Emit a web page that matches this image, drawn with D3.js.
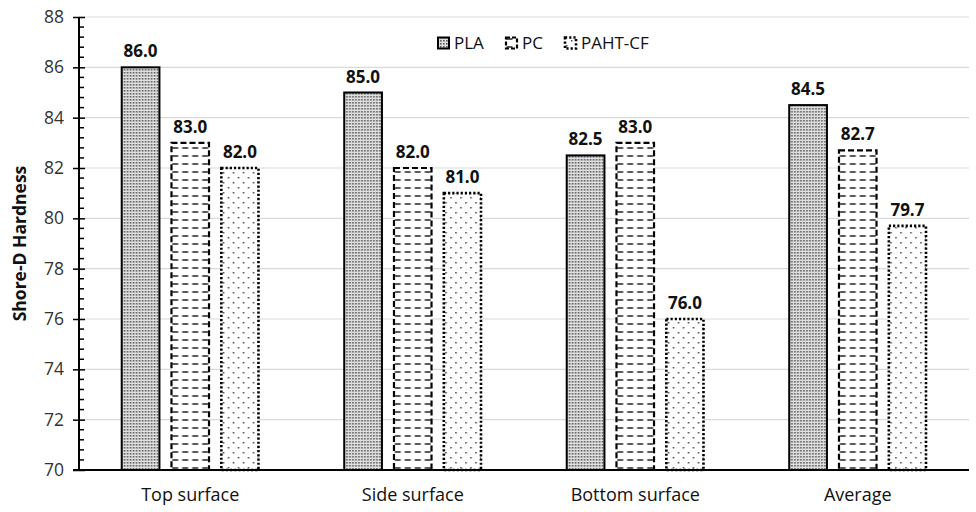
<!DOCTYPE html>
<html>
<head>
<meta charset="utf-8">
<script src="https://cdn.jsdelivr.net/npm/d3@7"></script>
<style>
  html, body { margin: 0; padding: 0; background: #fff; }
  svg { display: block; font-family: "Open Sans", "Lato", sans-serif; }
</style>
</head>
<body>
<svg id="chart" width="976" height="512"></svg>
<script>
// Shore-D hardness by surface and material
const categories = ["Top surface", "Side surface", "Bottom surface", "Average"];
const seriesNames = ["PLA", "PC", "PAHT-CF"];
const plaValues = [86.0, 85.0, 82.5, 84.5];
const pcValues = [83.0, 82.0, 83.0, 82.7];
const pahtValues = [82.0, 81.0, 76.0, 79.7];
const yTicks = [70, 72, 74, 76, 78, 80, 82, 84, 86, 88];
const yTitle = "Shore-D Hardness";

const seriesValues = { "PLA": plaValues, "PC": pcValues, "PAHT-CF": pahtValues };

const svg = d3.select("#chart");
const margin = { left: 79, right: 7, top: 17, bottom: 42 };
const W = 976, H = 512;

const x0 = d3.scaleBand().domain(categories).range([margin.left, W - margin.right]).padding(0);
const groupW = x0.bandwidth() * 0.625;
const x1 = d3.scaleBand().domain(seriesNames).range([0, groupW]).paddingInner(0.2).paddingOuter(0);
const y = d3.scaleLinear().domain([70, 88]).range([H - margin.bottom, margin.top]);

// fill patterns
const defs = svg.append("defs");
const pPLA = defs.append("pattern").attr("id", "pat-pla").attr("patternUnits", "userSpaceOnUse")
  .attr("width", 3).attr("height", 3);
pPLA.append("rect").attr("width", 3).attr("height", 3).attr("fill", "#e0e0e0");
pPLA.append("rect").attr("width", 1.6).attr("height", 1.6).attr("fill", "#5e5e5e");

const pPC = defs.append("pattern").attr("id", "pat-pc").attr("patternUnits", "userSpaceOnUse")
  .attr("width", 10).attr("height", 8);
pPC.append("rect").attr("width", 10).attr("height", 8).attr("fill", "#fff");
pPC.append("line").attr("x1", 1.5).attr("x2", 7.5).attr("y1", 4).attr("y2", 4)
  .attr("stroke", "#222").attr("stroke-width", 1.5);

const pPA = defs.append("pattern").attr("id", "pat-paht").attr("patternUnits", "userSpaceOnUse")
  .attr("width", 10).attr("height", 10);
pPA.append("rect").attr("width", 10).attr("height", 10).attr("fill", "#fff");
pPA.append("rect").attr("x", 2).attr("y", 2).attr("width", 1.5).attr("height", 1.5).attr("fill", "#444");
pPA.append("rect").attr("x", 7).attr("y", 7).attr("width", 1.5).attr("height", 1.5).attr("fill", "#444");

const styles = {
  "PLA": { fill: "url(#pat-pla)", dash: null, width: 2 },
  "PC": { fill: "url(#pat-pc)", dash: "6,3", width: 2.2 },
  "PAHT-CF": { fill: "url(#pat-paht)", dash: "2.2,2", width: 2.6 }
};

// gridlines
svg.append("g").selectAll("line").data(yTicks.filter(t => t > 70)).join("line")
  .attr("x1", margin.left).attr("x2", W - margin.right)
  .attr("y1", d => y(d)).attr("y2", d => y(d))
  .attr("stroke", "#d9d9d9").attr("stroke-width", 1.2);

// bars
const groups = svg.append("g").selectAll("g").data(categories).join("g")
  .attr("transform", d => `translate(${x0(d) + (x0.bandwidth() - groupW) / 2},0)`);

groups.each(function(cat, ci) {
  const g = d3.select(this);
  seriesNames.forEach(s => {
    const v = seriesValues[s][ci];
    const st = styles[s];
    g.append("rect")
      .attr("x", x1(s) + st.width / 2)
      .attr("y", y(v))
      .attr("width", x1.bandwidth() - st.width)
      .attr("height", y(70) - y(v))
      .attr("fill", st.fill)
      .attr("stroke", "#000")
      .attr("stroke-width", st.width)
      .attr("stroke-dasharray", st.dash);
    g.append("text")
      .attr("x", x1(s) + x1.bandwidth() / 2)
      .attr("y", y(v) - 10)
      .attr("text-anchor", "middle")
      .attr("font-size", 17).attr("font-weight", "bold").attr("fill", "#111")
      .text(v.toFixed(1));
  });
});

// y axis with minor ticks
const yAxisG = svg.append("g").attr("transform", `translate(${margin.left},0)`);
yAxisG.call(d3.axisLeft(y).tickValues(yTicks).tickSize(6).tickPadding(9).tickFormat(d3.format("d")));
yAxisG.select(".domain").remove();
yAxisG.selectAll(".tick line").attr("x1", -6).attr("x2", 6).attr("stroke", "#000").attr("stroke-width", 1.5);
yAxisG.selectAll(".tick text").attr("font-size", 17.5).attr("fill", "#333")
  .style("font-family", "'Open Sans', sans-serif");
const minor = d3.range(70, 88.001, 0.4).filter(v => Math.abs(v - Math.round(v / 2) * 2) > 0.05);
yAxisG.append("g").selectAll("line").data(minor).join("line")
  .attr("x1", 0).attr("x2", 5).attr("y1", d => y(d)).attr("y2", d => y(d))
  .attr("stroke", "#000").attr("stroke-width", 1.5);
yAxisG.append("line").attr("x1", 0).attr("x2", 0).attr("y1", y(88)).attr("y2", y(70))
  .attr("stroke", "#000").attr("stroke-width", 2);

// x axis
const xAxisG = svg.append("g").attr("transform", `translate(0,${y(70)})`);
xAxisG.call(d3.axisBottom(x0).tickSize(0).tickPadding(18));
xAxisG.select(".domain").remove();
xAxisG.append("line").attr("x1", margin.left - 6).attr("x2", W - margin.right)
  .attr("stroke", "#000").attr("stroke-width", 2.2);
xAxisG.selectAll(".tick text").attr("font-size", 18).attr("fill", "#111")
  .style("font-family", "'Open Sans', sans-serif");

// y axis title
svg.append("text")
  .attr("transform", `translate(20,${(y(70) + y(88)) / 2}) rotate(-90)`)
  .attr("text-anchor", "middle").attr("dy", "0.35em")
  .attr("font-size", 17.5).attr("font-weight", "bold").attr("fill", "#111")
  .text(yTitle);

// legend
const legendX = [437, 505, 564];
const legend = svg.append("g").attr("transform", "translate(0,43)");
seriesNames.forEach((s, i) => {
  const st = styles[s];
  const lg = legend.append("g").attr("transform", `translate(${legendX[i]},0)`);
  lg.append("rect").attr("x", 1).attr("y", -5.5).attr("width", 11).attr("height", 11)
    .attr("fill", st.fill).attr("stroke", "#000").attr("stroke-width", st.width)
    .attr("stroke-dasharray", s === "PC" ? "4,2" : st.dash);
  lg.append("text").attr("x", 17).attr("y", 0).attr("dy", "0.35em")
    .attr("font-size", 17).attr("fill", "#111").text(s);
});
</script>
</body>
</html>
